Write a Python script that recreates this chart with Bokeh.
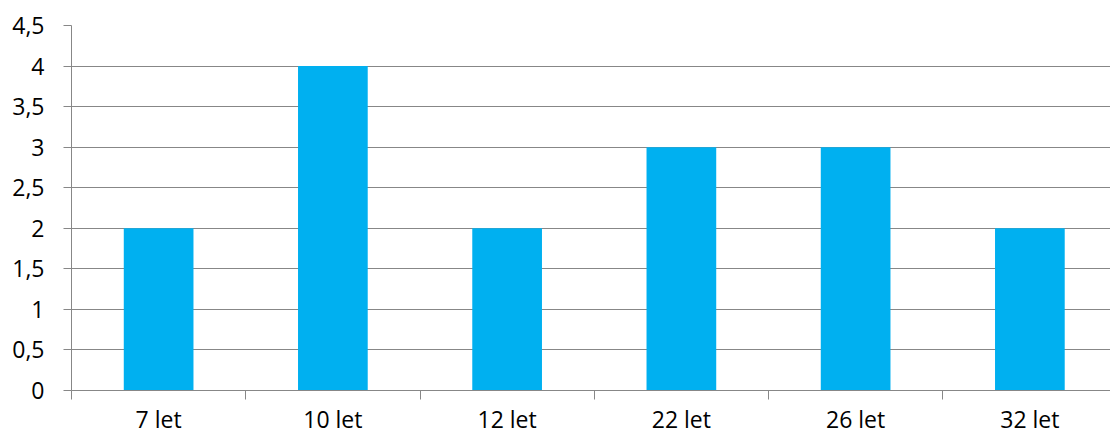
from bokeh.plotting import figure
from bokeh.models import Range1d, FixedTicker, CustomJSTickFormatter, LinearAxis
from bokeh.embed import file_html
from bokeh.resources import INLINE

# Data
categories = ["7 let", "10 let", "12 let", "22 let", "26 let", "32 let"]
values = [2, 4, 2, 3, 3, 2]
y_ticks = [0, 0.5, 1, 1.5, 2, 2.5, 3, 3.5, 4, 4.5]

FONT = "Open Sans"
GRAY = "#878787"
BAR = "#00B0F0"

slot_px = 174.25
left_border = 71
plot_w = 1110
frame_w = plot_w - left_border

p = figure(
    width=plot_w, height=437,
    x_range=Range1d(0, frame_w / slot_px),
    y_range=Range1d(0, 4.5),
    output_backend="svg", toolbar_location=None,
    x_axis_location=None, y_axis_location=None,
    min_border_left=left_border, min_border_right=0,
    min_border_top=25, min_border_bottom=46,
)
p.outline_line_color = None
p.background_fill_color = "white"
p.border_fill_color = "white"

# bars centered in each category slot
centers = [i + 0.5 for i in range(len(categories))]
p.vbar(x=centers, top=values, width=0.4, bottom=0, fill_color=BAR, line_color=None)

# y axis
yaxis = LinearAxis(ticker=FixedTicker(ticks=y_ticks, minor_ticks=[]))
yaxis.formatter = CustomJSTickFormatter(code="return tick.toString().replace('.', ',');")
yaxis.axis_line_color = GRAY
yaxis.major_tick_line_color = GRAY
yaxis.major_tick_out = 8
yaxis.major_tick_in = 0
yaxis.minor_tick_line_color = None
yaxis.major_label_text_font = FONT
yaxis.major_label_text_font_size = "23px"
yaxis.major_label_text_color = "#000000"
yaxis.major_label_standoff = 19
p.add_layout(yaxis, "left")

# x axis: labels at slot centers, tick marks at slot boundaries
xaxis = LinearAxis(ticker=FixedTicker(ticks=centers,
                                      minor_ticks=list(range(len(categories) + 1))))
xaxis.major_label_overrides = {c: lab for c, lab in zip(centers, categories)}
xaxis.axis_line_color = GRAY
xaxis.major_tick_line_color = None
xaxis.minor_tick_line_color = GRAY
xaxis.minor_tick_out = 9
xaxis.minor_tick_in = 0
xaxis.major_tick_out = 0
xaxis.major_tick_in = 0
xaxis.major_label_text_font = FONT
xaxis.major_label_text_font_size = "23px"
xaxis.major_label_text_color = "#000000"
xaxis.major_label_standoff = 3
p.add_layout(xaxis, "below")

p.xgrid.visible = False
p.ygrid.ticker = FixedTicker(ticks=y_ticks)
p.ygrid.grid_line_color = GRAY
p.ygrid.grid_line_width = 1

open("out.html", "w").write(file_html(p, INLINE))
